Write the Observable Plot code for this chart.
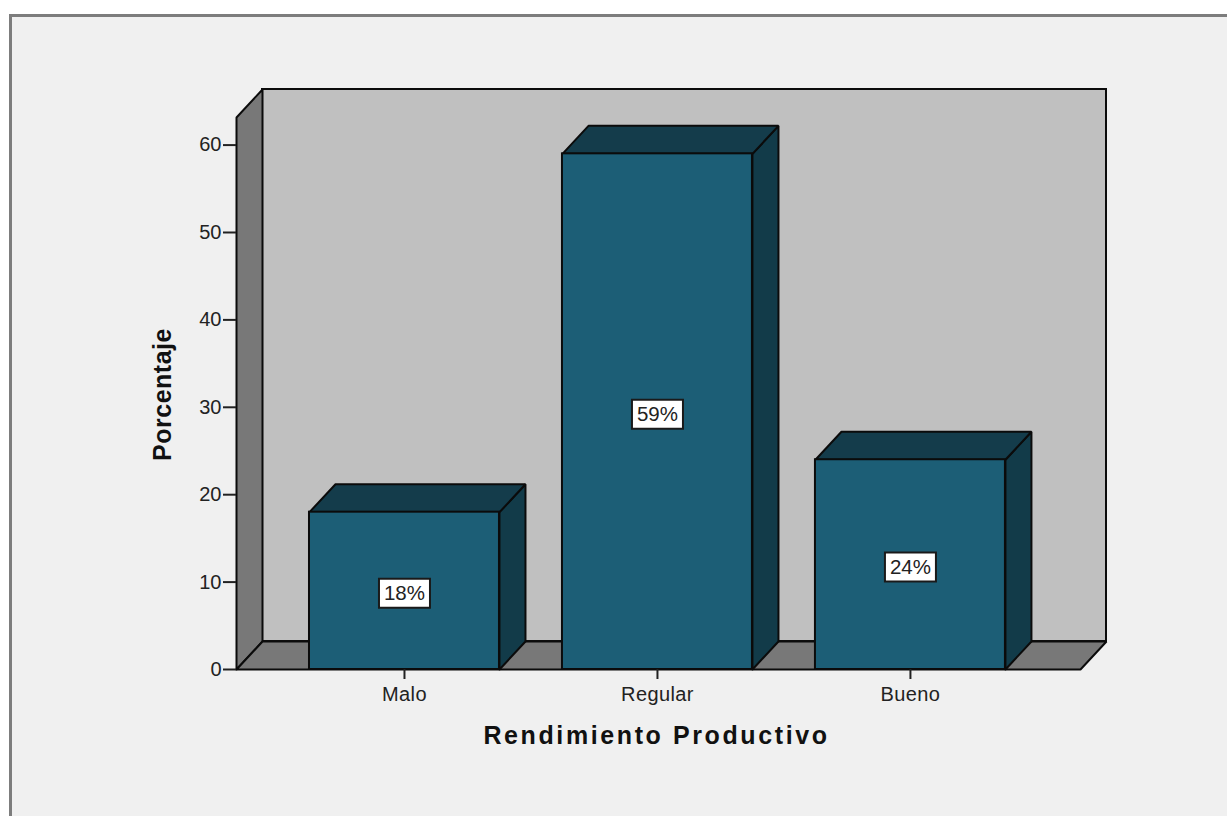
<!DOCTYPE html>
<html>
<head>
<meta charset="utf-8">
<script src="https://cdn.jsdelivr.net/npm/d3@7"></script>
<script src="https://cdn.jsdelivr.net/npm/@observablehq/plot@0.6"></script>
<style>
  html, body { margin: 0; padding: 0; background: #fff; overflow: hidden; }
  #panel {
    position: absolute; left: 9px; top: 14px; right: 0; bottom: 0;
    background: #f0f0f0; border-left: 3px solid #7d7d7d; border-top: 3px solid #7d7d7d;
  }
  #chart { position: absolute; left: 0; top: 0; }
</style>
</head>
<body>
<div id="panel"></div>
<div id="chart"></div>
<script>
// Rendimiento productivo: share of cases per rating
const categories = ["Malo", "Regular", "Bueno"];
const percentages = [18, 59, 24];
const yTicks = [0, 10, 20, 30, 40, 50, 60];

// Extent of the pseudo-3D box, in scale units
const barHalfWidth = 0.3755;
const depthX = 0.1028;
const depthY = 3.2;
const xMin = -0.664;
const xMax = 2.775;
const yMax = 66.36;
const wallTop = yMax - depthY;
const floorRight = xMax - depthX;

// Closed polygon as a run of points sharing one group key
const face = (key, corners) =>
  [...corners, corners[0]].map(([x, y]) => ({key, x, y}));

const leftWall = face("left", [[xMin, 0], [xMin + depthX, depthY], [xMin + depthX, yMax], [xMin, wallTop]]);
const floor = face("floor", [[xMin, 0], [floorRight, 0], [xMax, depthY], [xMin + depthX, depthY]]);

const bars = categories.map((name, i) => ({name, i, value: percentages[i]}));
const topFaces = bars.flatMap(({i, value}) => face(i, [
  [i - barHalfWidth, value], [i + barHalfWidth, value],
  [i + barHalfWidth + depthX, value + depthY], [i - barHalfWidth + depthX, value + depthY]
]));
const sideFaces = bars.flatMap(({i, value}) => face(i, [
  [i + barHalfWidth, 0], [i + barHalfWidth + depthX, depthY],
  [i + barHalfWidth + depthX, value + depthY], [i + barHalfWidth, value]
]));

const ink = "#0b0b0b";
const polygon = (data, fill) =>
  Plot.line(data, {x: "x", y: "y", z: "key", fill, stroke: ink, strokeWidth: 2, curve: "linear", strokeLinejoin: "miter"});

// Label plate: a fixed-size box centred on the anchor point
const plate = {draw(context) { context.rect(-25.5, -14.5, 51, 29); }};

// Render hook that widens the tracking of a text mark
const tracked = (spacing) => (index, scales, values, dimensions, context, next) => {
  const g = next(index, scales, values, dimensions, context);
  d3.select(g).selectAll("text").style("letter-spacing", spacing);
  return g;
};

const chart = Plot.plot({
  width: 1227,
  height: 816,
  marginLeft: 236,
  marginRight: 121,
  marginTop: 89,
  marginBottom: 147,
  style: {background: "transparent", fontFamily: "'Liberation Sans', Arial, sans-serif", color: "#222"},
  x: {domain: [xMin, xMax], axis: null},
  y: {domain: [0, yMax], axis: null},
  marks: [
    // Back wall, side wall and floor
    Plot.rect([0], {x1: xMin + depthX, x2: xMax, y1: depthY, y2: yMax, fill: "#c0c0c0", stroke: ink, strokeWidth: 2}),
    polygon(leftWall, "#787878"),
    polygon(floor, "#787878"),

    // Bars: side and top faces behind the front face
    polygon(sideFaces, "#123b49"),
    polygon(topFaces, "#143c4b"),
    Plot.rectY(bars, {
      x1: (d) => d.i - barHalfWidth,
      x2: (d) => d.i + barHalfWidth,
      y: "value",
      fill: "#1c5e76",
      stroke: ink,
      strokeWidth: 2
    }),

    // Value labels
    Plot.dot(bars, {
      x: "i",
      y: (d) => d.value / 2,
      dy: 2.5,
      symbol: plate,
      r: 10,
      fill: "#fff",
      stroke: "#1a1a1a",
      strokeWidth: 2
    }),
    Plot.text(bars, {
      x: "i",
      y: (d) => d.value / 2,
      dy: 2.5,
      text: (d) => `${d.value}%`,
      fontSize: 20.5,
      fill: "#222"
    }),

    // Axes
    Plot.axisY({ticks: yTicks, tickSize: 13, tickPadding: 2, fontSize: 20, label: null, strokeWidth: 2}),
    Plot.axisX({
      ticks: categories.map((_, i) => i),
      tickFormat: (i) => categories[i],
      tickSize: 10,
      tickPadding: 7,
      fontSize: 20,
      label: null,
      strokeWidth: 2,
      render: tracked("0.4px")
    }),
    Plot.text(["Porcentaje"], {
      frameAnchor: "left",
      textAnchor: "middle",
      dx: -74,
      dy: 15,
      rotate: -90,
      fontSize: 25,
      fontWeight: "bold",
      fill: "#111",
      render: tracked("0.5px")
    }),
    Plot.text(["Rendimiento Productivo"], {
      frameAnchor: "bottom",
      lineAnchor: "middle",
      dx: -15,
      dy: 66,
      fontSize: 25,
      fontWeight: "bold",
      fill: "#111",
      render: tracked("2.6px")
    })
  ]
});

document.getElementById("chart").append(chart);
</script>
</body>
</html>
